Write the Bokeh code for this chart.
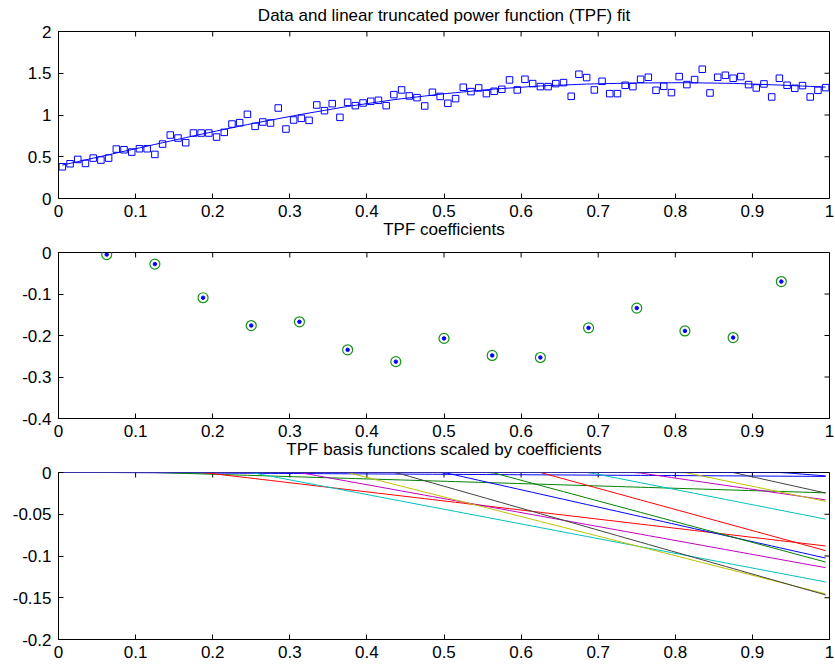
import numpy as np
from bokeh.plotting import figure
from bokeh.models import FixedTicker, Title
from bokeh.layouts import column
from bokeh.embed import file_html
from bokeh.resources import INLINE

FONT = "Liberation Sans"
FS = "17px"

# ---------------- data ----------------
x_data = np.round(0.005 + 0.01 * np.arange(100), 3)
y_data = [
    0.38, 0.416, 0.468, 0.42, 0.484, 0.46, 0.484, 0.592, 0.584, 0.556,
    0.596, 0.596, 0.528, 0.652, 0.76, 0.724, 0.668, 0.784, 0.784, 0.784,
    0.736, 0.792, 0.892, 0.908, 1.008, 0.864, 0.916, 0.904, 1.084, 0.832,
    0.94, 0.96, 0.936, 1.12, 1.052, 1.136, 0.972, 1.152, 1.112, 1.144,
    1.164, 1.176, 1.112, 1.244, 1.30, 1.228, 1.208, 1.108, 1.272, 1.222,
    1.14, 1.196, 1.332, 1.28, 1.324, 1.256, 1.284, 1.308, 1.42, 1.30,
    1.428, 1.376, 1.34, 1.34, 1.376, 1.388, 1.224, 1.488, 1.448, 1.30,
    1.404, 1.256, 1.256, 1.356, 1.34, 1.428, 1.452, 1.296, 1.344, 1.268,
    1.46, 1.364, 1.424, 1.548, 1.264, 1.452, 1.476, 1.44, 1.46, 1.364,
    1.324, 1.372, 1.216, 1.44, 1.356, 1.32, 1.352, 1.216, 1.296, 1.328,
]

knots = [1/16, 2/16, 3/16, 4/16, 5/16, 6/16, 7/16, 8/16,
         9/16, 10/16, 11/16, 12/16, 13/16, 14/16, 15/16]
coefs = [-0.005, -0.028, -0.109, -0.176, -0.167, -0.2345, -0.263, -0.207,
         -0.248, -0.253, -0.1816, -0.134, -0.189, -0.205, -0.070]
intercept = 0.39
slope = 2.064

basis_colors = ["#0000FF", "#008000", "#FF0000", "#00BFBF", "#BF00BF",
                "#BFBF00", "#404040"]

x_ticks = [0, 0.1, 0.2, 0.3, 0.4, 0.5, 0.6, 0.7, 0.8, 0.9, 1]
x_tick_labels = ["0", "0.1", "0.2", "0.3", "0.4", "0.5", "0.6", "0.7", "0.8", "0.9", "1"]
y1_ticks = [0, 0.5, 1, 1.5, 2]
y1_tick_labels = ["0", "0.5", "1", "1.5", "2"]
y2_ticks = [-0.4, -0.3, -0.2, -0.1, 0]
y2_tick_labels = ["-0.4", "-0.3", "-0.2", "-0.1", "0"]
y3_ticks = [-0.2, -0.15, -0.1, -0.05, 0]
y3_tick_labels = ["-0.2", "-0.15", "-0.1", "-0.05", "0"]

titles = ["Data and linear truncated power function (TPF) fit",
          "TPF coefficients",
          "TPF basis functions scaled by coefficients"]

# derived model quantities
x_arr = np.asarray(x_data)
basis = [c * np.clip(x_arr - k, 0, None) for k, c in zip(knots, coefs)]
fit = intercept + slope * x_arr + np.sum(basis, axis=0)

FRAME_W = 771


def style_title(t, standoff):
    t.align = "center"
    t.vertical_align = "top"
    t.text_font = FONT
    t.text_font_size = FS
    t.text_font_style = "normal"
    t.text_color = "black"
    t.standoff = standoff


def make_fig(yr, yt, ytl, top, bottom, fh, title=None):
    p = figure(frame_width=FRAME_W, frame_height=fh, x_range=(0, 1), y_range=yr,
               output_backend="svg", toolbar_location=None, title=title,
               min_border_left=58, min_border_right=6,
               min_border_top=top, min_border_bottom=bottom,
               background_fill_color="white", border_fill_color="white")
    p.xgrid.visible = False
    p.ygrid.visible = False
    p.outline_line_color = "black"
    p.outline_line_width = 1

    def style(ax, ticks, labels, standoff):
        ax.ticker = FixedTicker(ticks=ticks)
        ax.major_label_overrides = {t: l for t, l in zip(ticks, labels)}
        ax.major_tick_in = 5
        ax.major_tick_out = 0
        ax.minor_tick_in = 0
        ax.minor_tick_out = 0
        ax.axis_line_color = "black"
        ax.major_tick_line_color = "black"
        ax.major_label_text_font = FONT
        ax.major_label_text_font_size = FS
        ax.major_label_text_color = "black"
        ax.major_label_standoff = standoff

    style(p.xaxis[0], x_ticks, x_tick_labels, 6)
    style(p.yaxis[0], yt, ytl, 7)
    # mirrored inward ticks on the top and right edges of the box
    p.scatter(x_ticks, [yr[1]] * len(x_ticks), marker="dash", angle=np.pi / 2,
              size=10, line_color="black", line_width=1)
    p.scatter([1] * len(yt), yt, marker="dash", size=10,
              line_color="black", line_width=1)
    return p


# --- top panel: data + fit
p1 = make_fig((0, 2), y1_ticks, y1_tick_labels, 31, 46, 167, title=titles[0])
style_title(p1.title, 10)
p1.line(x_arr, fit, line_color="#0000FF", line_width=1)
p1.scatter(x_arr, y_data, marker="square", size=6.5, fill_color=None,
           line_color="#0000FF", line_width=1)
# heading of the middle panel sits just under the top panel's tick labels
t2 = Title(text=titles[1])
style_title(t2, 0)
p1.add_layout(t2, "below")

# --- middle panel: coefficients
p2 = make_fig((-0.4, 0), y2_ticks, y2_tick_labels, 8, 46, 166)
p2.scatter(knots, coefs, marker="circle", size=3.5, fill_color="#0000FF",
           line_color="#0000FF")
p2.scatter(knots, coefs, marker="circle", size=10, fill_color=None,
           line_color="#129412", line_width=1.2)
t3 = Title(text=titles[2])
style_title(t3, 0)
p2.add_layout(t3, "below")

# --- bottom panel: scaled basis functions
p3 = make_fig((-0.2, 0), y3_ticks, y3_tick_labels, 8, 25, 167)
for i, b in enumerate(basis):
    p3.line(x_arr, b, line_color=basis_colors[i % len(basis_colors)], line_width=1)

layout = column(p1, p2, p3, spacing=0)
open("out.html", "w").write(file_html(layout, INLINE))
